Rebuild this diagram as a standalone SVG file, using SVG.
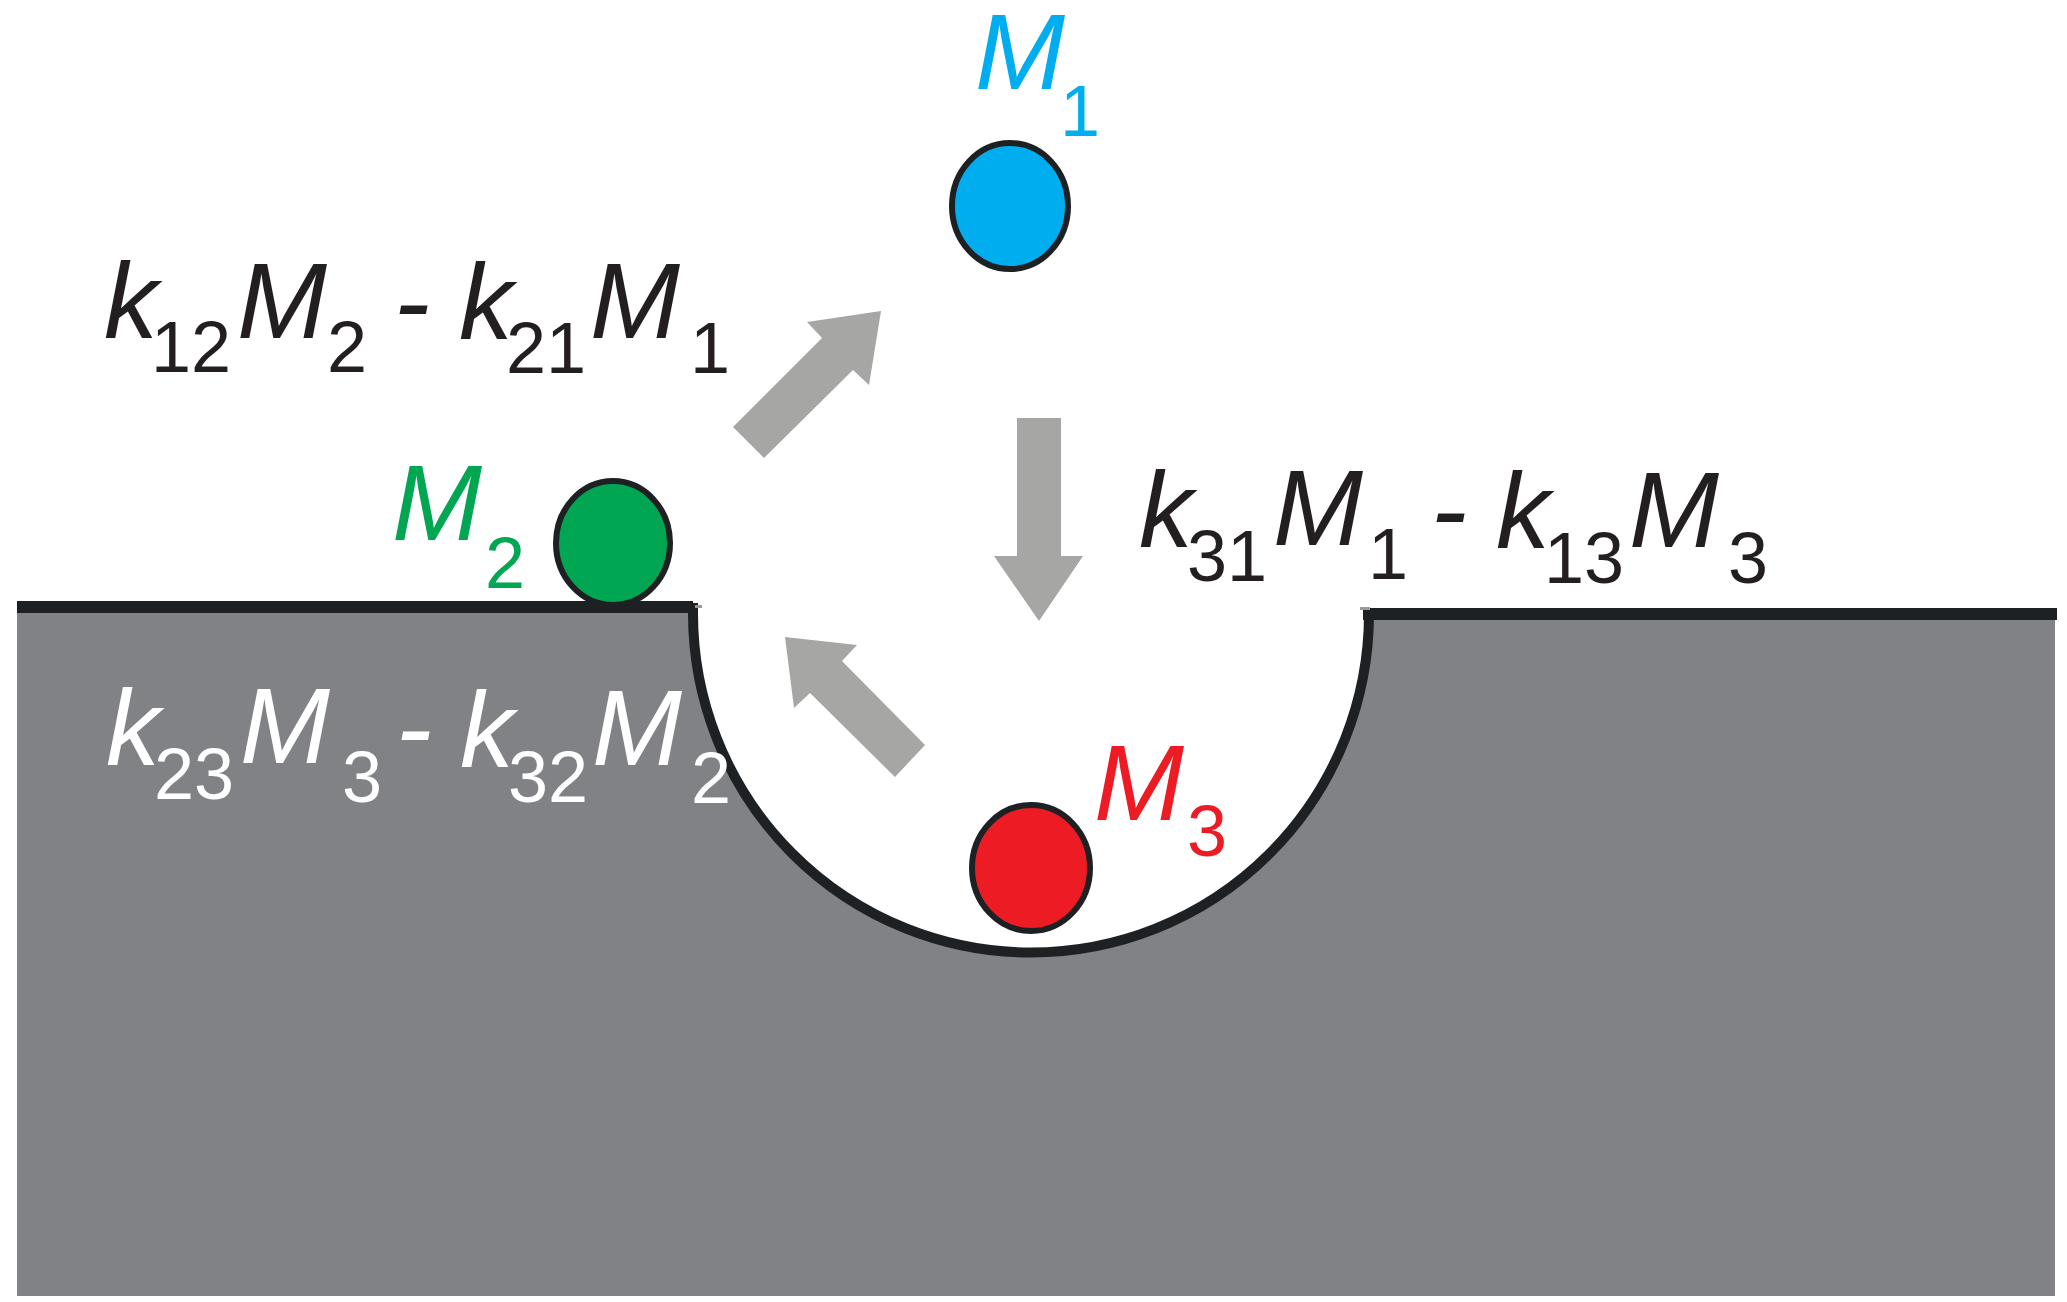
<svg xmlns="http://www.w3.org/2000/svg" width="2067" height="1302" viewBox="0 0 2067 1302">
<style>
.t{font-family:"Liberation Sans",Arial,sans-serif;font-size:108px;font-style:italic}
.s{font-family:"Liberation Sans",Arial,sans-serif;font-size:72px;font-style:normal}
.blk{fill:#231f20}
.wht{fill:#ffffff}
.arrow{fill:#a6a6a5}
.node{stroke:#1e2124;stroke-width:6}
.edge{fill:#1e2124}
</style>
<rect x="0" y="0" width="2067" height="1302" fill="#ffffff"/>
<g id="ground">
<path d="M17,613 L693,613 A338,339 0 0 0 1369,614 L2055,620 L2055,1296 L17,1296 Z" fill="#818286"/>
<path d="M693,603 L693,613 A338,339 0 0 0 1369,614 L1369,608" fill="none" stroke="#1e2124" stroke-width="10"/>
<rect class="edge" x="17" y="601" width="676" height="12"/>
<rect class="edge" x="1363" y="608" width="694" height="12"/>
<rect x="695" y="605" width="7" height="3" fill="#9a9a9a"/>
<rect x="1360" y="607" width="10" height="3" fill="#9a9a9a"/>
</g>
<g id="connectors">
<polygon class="arrow" points="733,427 822,338 807,322 881,311 869,385 853,370 764,458"/>
<polygon class="arrow" points="1017,418 1061,418 1061,556 1083,556 1039,621 994,556 1017,556"/>
<polygon class="arrow" points="785,637 857,645 842,661 925,745 895,777 810,693 794,708"/>
</g>
<g id="node-M1">
<ellipse class="node" cx="1010" cy="206" rx="58" ry="63" fill="#00aeef"/>
<text class="t" x="975" y="89" fill="#00aeef">M</text>
<text class="s" x="1060" y="136" fill="#00aeef">1</text>
</g>
<g id="node-M2">
<ellipse class="node" cx="613" cy="543" rx="57" ry="62" fill="#00a651"/>
<text class="t" x="392" y="540" fill="#00a651">M</text>
<text class="s" x="485" y="588" fill="#00a651">2</text>
</g>
<g id="node-M3">
<ellipse class="node" cx="1031" cy="868" rx="59" ry="63" fill="#ed1c24"/>
<text class="t" x="1094" y="820" fill="#ed1c24">M</text>
<text class="s" x="1187" y="856" fill="#ed1c24">3</text>
</g>
<g id="rate-12" class="blk">
<text class="t" x="104" y="338">k</text>
<text class="s" x="151" y="372">12</text>
<text class="t" x="237" y="338">M</text>
<text class="s" x="327" y="372">2</text>
<text class="t" x="394" y="338">-</text>
<text class="t" x="459" y="339">k</text>
<text class="s" x="506" y="373">21</text>
<text class="t" x="590" y="338">M</text>
<text class="s" x="690" y="373">1</text>
</g>
<g id="rate-31" class="blk">
<text class="t" x="1139" y="547">k</text>
<text class="s" x="1187" y="581">31</text>
<text class="t" x="1273" y="545">M</text>
<text class="s" x="1368" y="579">1</text>
<text class="t" x="1431" y="546">-</text>
<text class="t" x="1496" y="548">k</text>
<text class="s" x="1544" y="583">13</text>
<text class="t" x="1629" y="547">M</text>
<text class="s" x="1728" y="583">3</text>
</g>
<g id="rate-23" class="wht">
<text class="t" x="106" y="765">k</text>
<text class="s" x="154" y="799">23</text>
<text class="t" x="240" y="763">M</text>
<text class="s" x="342" y="802">3</text>
<text class="t" x="396" y="764">-</text>
<text class="t" x="460" y="767">k</text>
<text class="s" x="508" y="802">32</text>
<text class="t" x="592" y="765">M</text>
<text class="s" x="691" y="803">2</text>
</g>
</svg>
